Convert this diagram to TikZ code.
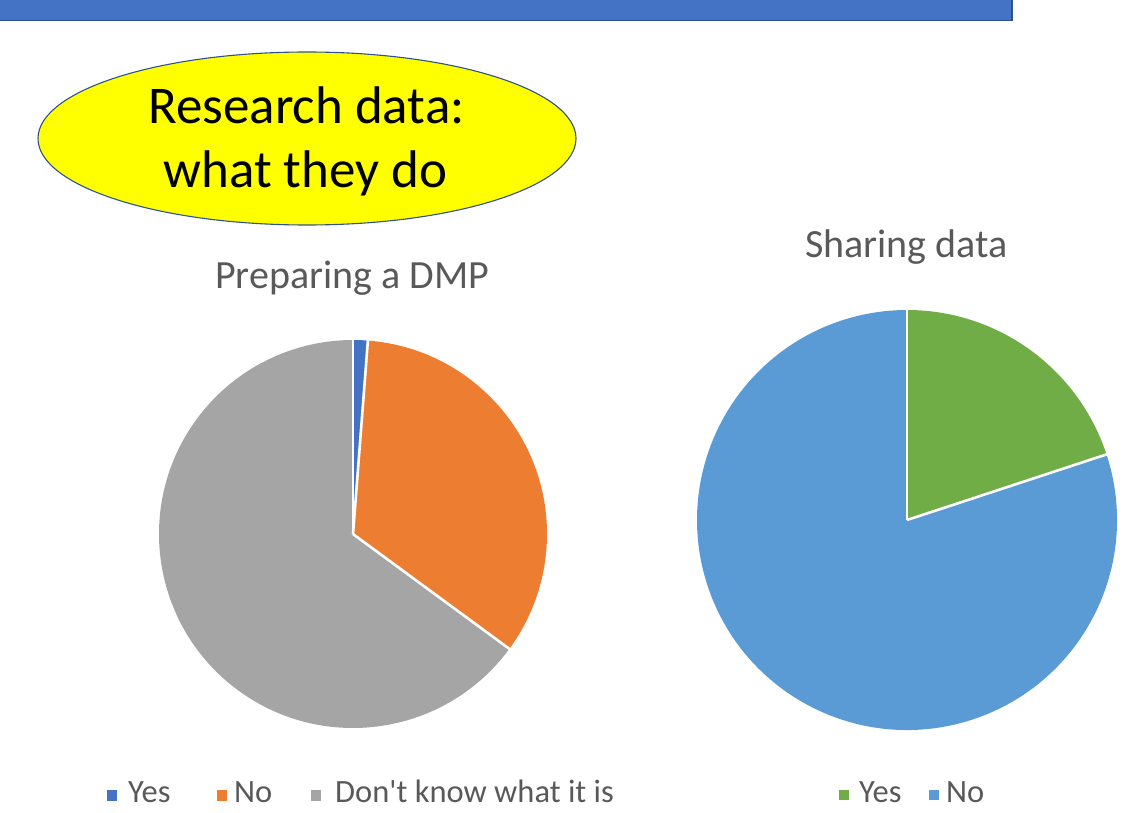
\documentclass[tikz,border=0pt]{standalone}
\usepackage{fontspec}
\setmainfont{Carlito}
\usetikzlibrary{shapes.geometric}
\definecolor{barblue}{HTML}{4472C4}
\definecolor{bardark}{HTML}{2F528F}
\definecolor{ovalyellow}{HTML}{FFFF00}
\definecolor{cyes}{HTML}{4472C4}
\definecolor{cno}{HTML}{ED7D31}
\definecolor{cdk}{HTML}{A5A5A5}
\definecolor{cgreen}{HTML}{70AD47}
\definecolor{clblue}{HTML}{5B9BD5}
\definecolor{txtgray}{HTML}{595959}
\tikzset{
  slice/.style={draw=white, line width=2.6pt, line join=miter},
  ovaltext/.style={inner sep=0pt, anchor=base, font=\fontsize{53}{62}\selectfont, text=black},
  charttitle/.style={inner sep=0pt, anchor=base, font=\fontsize{40}{48}\selectfont, text=txtgray},
  legtext/.style={inner sep=0pt, anchor=base west, font=\fontsize{32.5}{39}\selectfont, text=txtgray},
  legkey/.style={inner sep=0pt, minimum size=10.5pt, draw=none},
}
\begin{document}
\begin{tikzpicture}[x=1pt,y=-1pt]
\useasboundingbox (0,0) rectangle (1145,813);
% top bar
\fill[barblue] (0,0) rectangle (1012,21);
\draw[bardark, line width=1.4pt] (0,20.5) -- (1012,20.5) -- (1012,0);
% oval
\node[ellipse, draw=bardark, line width=1.1pt, fill=ovalyellow, minimum width=538pt, minimum height=173pt, inner sep=0pt] (oval) at (307,138.5) {};
\node[ovaltext] (oval1) at (306.5,124) {Research data:};
\node[ovaltext] (oval2) at (305.5,187) {what they do};
% left pie
\coordinate (c1) at (353,534);
\fill[cyes] (c1) -- ++(-90:194) arc[start angle=-90, end angle=-85.6, radius=194] -- cycle;
\fill[cno] (c1) -- ++(-85.6:194) arc[start angle=-85.6, end angle=36.3, radius=194] -- cycle;
\fill[cdk] (c1) -- ++(36.3:194) arc[start angle=36.3, end angle=270, radius=194] -- cycle;
\draw[slice] (c1) -- ++(-90:196);
\draw[slice] (c1) -- ++(-85.6:196);
\draw[slice] (c1) -- ++(36.3:196);
\node[charttitle] (t1) at (352,288) {Preparing a DMP};
% right pie
\coordinate (c2) at (907,520);
\fill[cgreen] (c2) -- ++(-90:210) arc[start angle=-90, end angle=-18.2, radius=210] -- cycle;
\fill[clblue] (c2) -- ++(-18.2:210) arc[start angle=-18.2, end angle=270, radius=210] -- cycle;
\draw[slice] (c2) -- ++(-90:212);
\draw[slice] (c2) -- ++(-18.2:212);
\node[charttitle] (t2) at (906.5,257) {Sharing data};
% left legend
\node[legkey, fill=cyes] (k1) at (112,795.5) {};
\node[legtext] (l1) at (128,802) {Yes};
\node[legkey, fill=cno] (k2) at (222,795.5) {};
\node[legtext] (l2) at (234,802) {No};
\node[legkey, fill=cdk] (k3) at (316,795.5) {};
\node[legtext] (l3) at (335,802) {Don\textquotesingle t know what it is};
% right legend
\node[legkey, fill=cgreen] (k4) at (844,795) {};
\node[legtext] (l4) at (859,802) {Yes};
\node[legkey, fill=clblue] (k5) at (934,795) {};
\node[legtext] (l5) at (946,802) {No};
\end{tikzpicture}
\end{document}
